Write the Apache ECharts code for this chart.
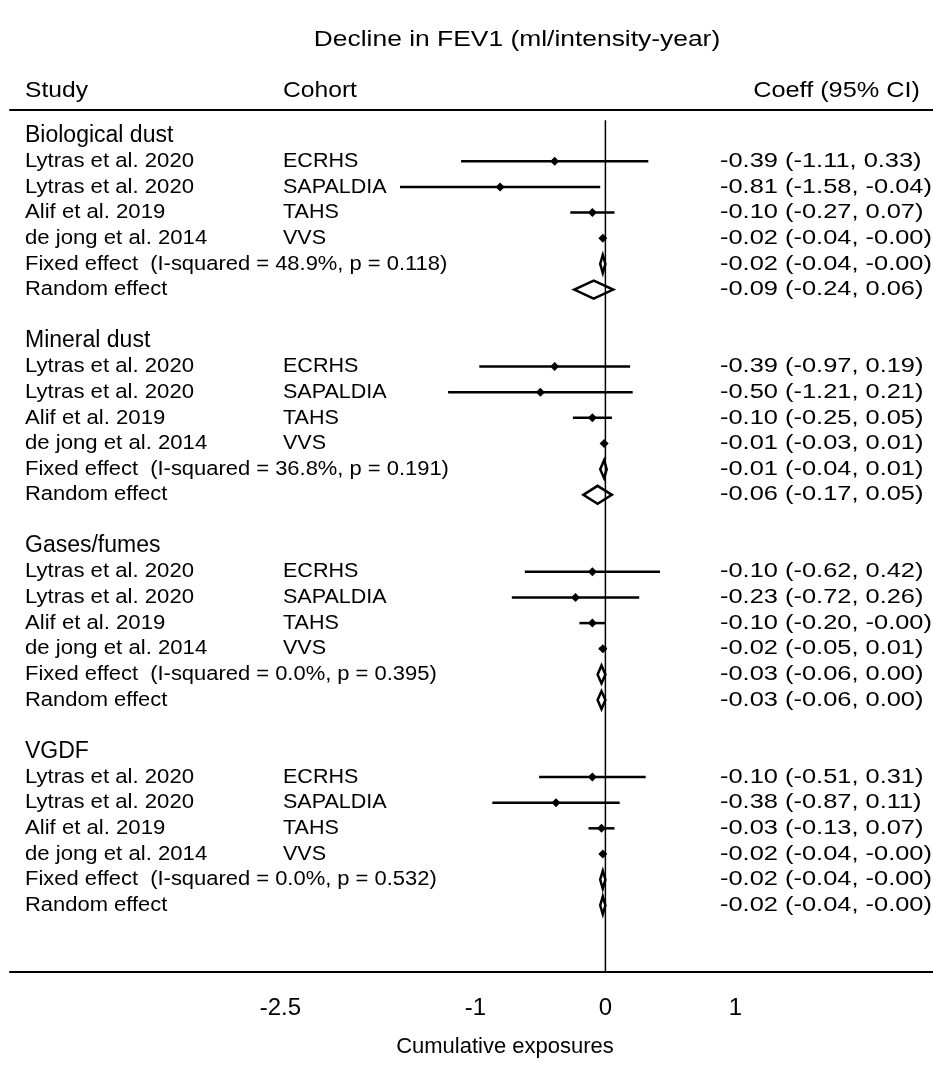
<!DOCTYPE html>
<html><head><meta charset="utf-8">
<script src="https://cdn.jsdelivr.net/npm/echarts@6/dist/echarts.min.js"></script>
<style>html,body{margin:0;padding:0;background:#fff}#c{width:933px;height:1068px}</style>
</head><body><div id="c"></div>
<script>
const groups = ["Biological dust","Mineral dust","Gases/fumes","VGDF"];
const studies = ["Lytras et al. 2020","Lytras et al. 2020","Alif et al. 2019","de jong et al. 2014"];
const cohorts = ["ECRHS","SAPALDIA","TAHS","VVS"];
const est = [[-0.39,-0.81,-0.10,-0.02],[-0.39,-0.50,-0.10,-0.01],[-0.10,-0.23,-0.10,-0.02],[-0.10,-0.38,-0.03,-0.02]];
const lo  = [[-1.11,-1.58,-0.27,-0.04],[-0.97,-1.21,-0.25,-0.03],[-0.62,-0.72,-0.20,-0.05],[-0.51,-0.87,-0.13,-0.04]];
const hi  = [[0.33,-0.04,0.07,-0.00],[0.19,0.21,0.05,0.01],[0.42,0.26,-0.00,0.01],[0.31,0.11,0.07,-0.00]];
const fixedTxt = ["Fixed effect  (I-squared = 48.9%, p = 0.118)","Fixed effect  (I-squared = 36.8%, p = 0.191)","Fixed effect  (I-squared = 0.0%, p = 0.395)","Fixed effect  (I-squared = 0.0%, p = 0.532)"];
const fixedEst = [-0.02,-0.01,-0.03,-0.02], fixedLo=[-0.04,-0.04,-0.06,-0.04], fixedHi=[-0.00,0.01,0.00,-0.00];
const randEst = [-0.09,-0.06,-0.03,-0.02], randLo=[-0.24,-0.17,-0.06,-0.04], randHi=[0.06,0.05,0.00,-0.00];
const ciLabels = [
 ["-0.39 (-1.11, 0.33)","-0.81 (-1.58, -0.04)","-0.10 (-0.27, 0.07)","-0.02 (-0.04, -0.00)","-0.02 (-0.04, -0.00)","-0.09 (-0.24, 0.06)"],
 ["-0.39 (-0.97, 0.19)","-0.50 (-1.21, 0.21)","-0.10 (-0.25, 0.05)","-0.01 (-0.03, 0.01)","-0.01 (-0.04, 0.01)","-0.06 (-0.17, 0.05)"],
 ["-0.10 (-0.62, 0.42)","-0.23 (-0.72, 0.26)","-0.10 (-0.20, -0.00)","-0.02 (-0.05, 0.01)","-0.03 (-0.06, 0.00)","-0.03 (-0.06, 0.00)"],
 ["-0.10 (-0.51, 0.31)","-0.38 (-0.87, 0.11)","-0.03 (-0.13, 0.07)","-0.02 (-0.04, -0.00)","-0.02 (-0.04, -0.00)","-0.02 (-0.04, -0.00)"]];
const xTicks = [-2.5,-1,0,1];

const rows = [];
groups.forEach((g,gi)=>{
  const base = gi*8;
  rows.push({row:base, type:'header', text:g});
  for(let k=0;k<4;k++) rows.push({row:base+1+k,type:'study',study:studies[k],cohort:cohorts[k],e:est[gi][k],l:lo[gi][k],h:hi[gi][k],ci:ciLabels[gi][k]});
  rows.push({row:base+5,type:'diamond',text:fixedTxt[gi],e:fixedEst[gi],l:fixedLo[gi],h:fixedHi[gi],ci:ciLabels[gi][4]});
  rows.push({row:base+6,type:'diamond',text:'Random effect',e:randEst[gi],l:randLo[gi],h:randHi[gi],ci:ciLabels[gi][5]});
});
const F = 'Liberation Sans, Arial, sans-serif';
function txt(x,y,s,size,sx,align){return {type:'text',x:x,y:y,scaleX:sx||1,style:{x:0,y:0,text:s,fill:'#000',font:size+'px '+F,textAlign:align||'left',textVerticalAlign:'middle'}};}
const chart = echarts.init(document.getElementById('c'));
chart.setOption({
  animation:false,
  grid:{left:10,right:0,top:110,bottom:96},
  graphic:[txt(517,40,'Decline in FEV1 (ml/intensity-year)',22,1.2,'center'),
           txt(25,91,'Study',22,1.12),txt(283,91,'Cohort',22,1.12),txt(920,91,'Coeff (95% CI)',22,1.15,'right'),
           txt(505,1047,'Cumulative exposures',22,1.0,'center')],
  xAxis:[{type:'value',min:-4.58,max:2.52,position:'bottom',
    axisLine:{show:true,onZero:false,lineStyle:{color:'#000',width:2}},splitLine:{show:false},
    axisTick:{show:false},
    axisLabel:{customValues:xTicks,margin:24,fontFamily:F,fontSize:24,color:'#000',formatter:v=>String(v)}},
   {type:'value',min:-4.58,max:2.52,position:'top',axisLine:{show:true,onZero:false,lineStyle:{color:'#000',width:2}},axisTick:{show:false},axisLabel:{show:false},splitLine:{show:false}}],
  yAxis:{type:'value',inverse:true,min:-1,max:32.6,show:false},
  series:[
   {type:'line',data:[[0,-0.6],[0,32.6]],symbol:'none',lineStyle:{color:'#000',width:1.5},silent:true},
   {type:'custom',data:rows.map(r=>[r.row]),renderItem:function(params,api){
     const r = rows[params.dataIndex];
     const y = api.coord([0,r.row])[1];
     const ch=[];
     if(r.type==='header'){ ch.push(txt(25,y,r.text,23,1.0)); }
     else if(r.type==='study'){
       ch.push(txt(25,y,r.study,20.5,1.08)); ch.push(txt(283,y,r.cohort,20.5,1.05)); ch.push(txt(720,y,r.ci,20.5,1.24));
       const pl=api.coord([r.l,r.row]), ph=api.coord([r.h,r.row]), pe=api.coord([r.e,r.row]);
       ch.push({type:'line',shape:{x1:pl[0],y1:y,x2:ph[0],y2:y},style:{stroke:'#000',lineWidth:2.5}});
       ch.push({type:'polygon',shape:{points:[[pe[0]-4.5,y],[pe[0],y-4.5],[pe[0]+4.5,y],[pe[0],y+4.5]]},style:{fill:'#000'}});
     } else {
       ch.push(txt(25,y,r.text,20.5,1.07)); ch.push(txt(720,y,r.ci,20.5,1.24));
       const pl=api.coord([r.l,r.row]), ph=api.coord([r.h,r.row]), pe=api.coord([r.e,r.row]);
       ch.push({type:'polygon',shape:{points:[[pl[0],y],[pe[0],y-9],[ph[0],y],[pe[0],y+9]]},style:{fill:'#fff',stroke:'#000',lineWidth:2.5}});
     }
     return {type:'group',children:ch};
   }}
  ]
});
</script></body></html>
